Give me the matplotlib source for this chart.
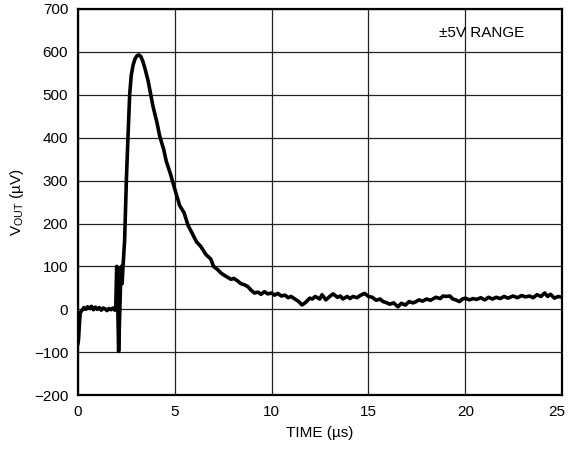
import matplotlib
matplotlib.use("Agg")
import matplotlib.pyplot as plt
import matplotlib.transforms as mtransforms

plt.rcParams['font.family'] = ['Liberation Sans', 'DejaVu Sans']
plt.rcParams['mathtext.default'] = 'regular'

# trace (time in us, Vout in uV)
TIME = [0.0, 0.03, 0.08, 0.12, 0.2, 0.3, 0.4, 0.5, 0.6, 0.7, 0.8, 0.9, 1.0, 1.1,
        1.2, 1.3, 1.4, 1.5, 1.6, 1.7, 1.8, 1.9, 1.95,
        2.0, 2.05, 2.1, 2.15, 2.2, 2.24, 2.28, 2.32,
        2.41, 2.5, 2.58, 2.67, 2.75, 2.85, 2.95, 3.05, 3.15, 3.25, 3.35, 3.45,
        3.62, 3.87, 4.08, 4.22, 4.43, 4.56, 4.78, 5.0, 5.25, 5.48, 5.68, 5.91,
        6.11, 6.35, 6.6, 6.86, 7.0, 7.2, 7.4, 7.6, 7.75, 7.9, 8.05, 8.25, 8.4,
        8.6, 8.77, 8.95, 9.11, 9.3, 9.45, 9.63, 9.8, 10.0, 10.15, 10.32, 10.5,
        10.7, 10.85, 11.0, 11.2, 11.4, 11.57, 11.75, 11.97, 12.1, 12.25, 12.48,
        12.6, 12.8, 13.0, 13.17, 13.4, 13.55, 13.68, 13.9, 14.05, 14.2, 14.4,
        14.6, 14.8, 15.0, 15.2, 15.4, 15.6, 15.75, 15.9, 16.1, 16.3, 16.52,
        16.7, 16.9, 17.1, 17.3, 17.46, 17.6, 17.79, 18.0, 18.2, 18.48, 18.7,
        18.85, 19.0, 19.2, 19.35, 19.5, 19.7, 19.85, 20.0, 20.2, 20.4, 20.57,
        20.8, 21.0, 21.2, 21.4, 21.6, 21.8, 22.0, 22.2, 22.46, 22.7, 22.9, 23.1,
        23.32, 23.5, 23.7, 23.9, 24.1, 24.25, 24.4, 24.6, 24.8, 25.0]
VOUT = [-80, -70, -30, -8, -3, 4, 0, 6, 2, 7, -1, 5, 0, 4,
        -2, 3, 1, -3, 2, -1, 3, -2, 0,
        100, 20, -98, -20, 60, 100, 60, 95,
        161, 301, 398, 500, 545, 570, 584, 591, 593, 589, 578, 563,
        533, 474, 435, 404, 372, 345, 315, 280, 242, 225, 196, 176,
        158, 146, 128, 117, 100, 93, 84, 78, 74, 70, 72, 66, 60,
        57, 53, 44, 38, 40, 35, 41, 36, 38, 33, 37, 31,
        33, 27, 30, 24, 18, 10, 16, 26, 24, 30, 24,
        34, 22, 30, 36, 28, 31, 24, 30, 25, 30, 27,
        33, 37, 30, 28, 21, 24, 18, 16, 12, 15, 6,
        14, 10, 18, 15, 18, 22, 19, 24, 21, 28, 25,
        31, 30, 31, 24, 22, 18, 24, 26, 22, 25, 23,
        27, 22, 28, 24, 28, 25, 30, 26, 31, 27, 32, 29,
        31, 27, 34, 30, 38, 30, 35, 26, 30, 28]

X_TICKS = [0, 5, 10, 15, 20, 25]
Y_TICKS = [-200, -100, 0, 100, 200, 300, 400, 500, 600, 700]

fig = plt.figure(figsize=(5.69, 4.49), dpi=100)
ax = fig.add_axes([0.137, 0.12, 0.851, 0.86])

ax.plot(TIME, VOUT, color="black", lw=2.6, solid_joinstyle="round")

ax.set_xlim(0, 25)
ax.set_ylim(-200, 700)
ax.set_xticks(X_TICKS)
ax.set_yticks(Y_TICKS)
ax.grid(True, color="#222222", lw=0.9)
ax.set_axisbelow(True)
ax.tick_params(length=0, labelsize=11, pad=7)
for s in ax.spines.values():
    s.set_linewidth(1.6)

# keep the last x label inside the picture
last = ax.get_xticklabels()[-1]
last.set_transform(last.get_transform() +
                   mtransforms.ScaledTranslation(-4 / 72, 0, fig.dpi_scale_trans))

ax.set_xlabel("TIME (µs)", fontsize=11, labelpad=5)
ax.set_ylabel("V$_{OUT}$ (µV)", fontsize=11, labelpad=6)
ax.text(20.85, 645, "±5V RANGE", fontsize=11, ha="center", va="center")

plt.savefig("out.png", dpi=100)
